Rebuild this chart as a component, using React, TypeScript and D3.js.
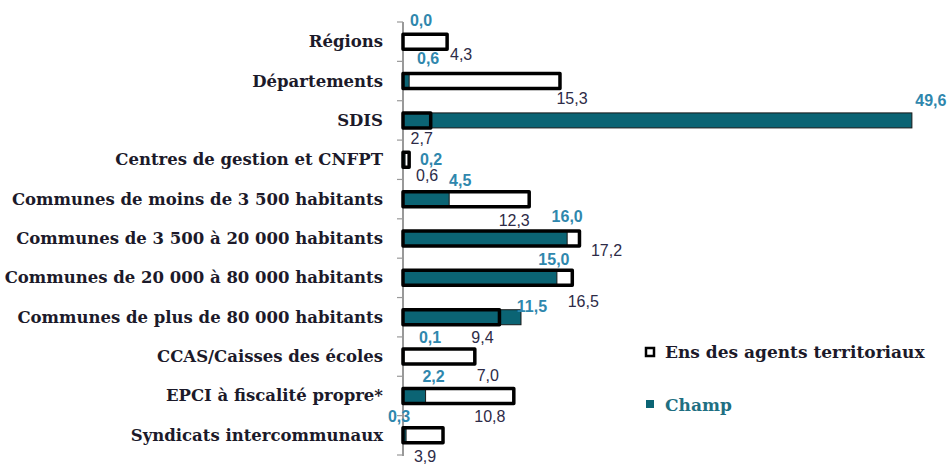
import React from 'react';
import * as d3 from 'd3';

// Data
const categories = [
  'Régions',
  'Départements',
  'SDIS',
  'Centres de gestion et CNFPT',
  'Communes de moins de 3 500 habitants',
  'Communes de 3 500 à 20 000 habitants',
  'Communes de 20 000 à 80 000 habitants',
  'Communes de plus de 80 000 habitants',
  'CCAS/Caisses des écoles',
  'EPCI à fiscalité propre*',
  'Syndicats intercommunaux',
];
const ensValues = [4.3, 15.3, 2.7, 0.6, 12.3, 17.2, 16.5, 9.4, 7.0, 10.8, 3.9];
const champValues = [0.0, 0.6, 49.6, 0.2, 4.5, 16.0, 15.0, 11.5, 0.1, 2.2, 0.3];
const seriesNames = ['Ens des agents territoriaux', 'Champ'];

// Label nudges (layout only): [dx from bar end, dy from band top]
const champNudge = [[18, -2], [19, -3], [19, 0], [26, 19], [11, 1], [0, -2], [-3, 1], [11, 9], [26, 1], [8, 0], [-7, 1]];
const ensNudge = [[14, 32], [12, 37], [-9, 38], [18, 35], [-15, 41], [27, 32], [11, 43], [-17, 40], [13, 39], [-24, 40], [-18, 41]];

const W = 949;
const H = 466;
const TEAL = '#0b6474';
const CHAMP_TEXT = '#2f87ad';
const ENS_TEXT = '#2d2b47';
const LABEL_FONT = '"DejaVu Serif", serif';
const fmt = (v: number) => v.toFixed(1).replace('.', ',');

export default function App() {
  const x = d3.scaleLinear().domain([0, 50]).range([403, 916]);
  const y = d3.scaleBand<string>().domain(categories).range([22, 455]);
  const bw = y.bandwidth();
  const barH = 15;
  const barY = (c: string) => (y(c) as number) + bw / 2 - barH / 2;
  const tickYs = [...categories.map(c => y(c) as number), y.range()[1]];

  return (
    <svg width={W} height={H} style={{ position: 'absolute', left: 0, top: 0, background: '#fff' }}>
      {/* axis */}
      <line x1={x(0)} x2={x(0)} y1={y.range()[0]} y2={y.range()[1] + 1} stroke="#555" strokeWidth={1.2} />
      {tickYs.map((t, i) => (
        <line key={i} x1={x(0) - 6} x2={x(0)} y1={t} y2={t} stroke="#9a9a9a" strokeWidth={1.2} />
      ))}

      {/* category labels */}
      {categories.map(c => (
        <text key={c} x={383} y={(y(c) as number) + bw / 2} textAnchor="end" dominantBaseline="central"
          fontFamily={LABEL_FONT} fontWeight="bold" fontSize={16.5} fill="#1c1a2a">{c}</text>
      ))}

      {/* bars: white fill, teal overlay, black outline on top */}
      {categories.map((c, i) => (
        <g key={c}>
          <rect x={x(0)} y={barY(c)} width={x(ensValues[i]) - x(0)} height={barH} fill="#fff" />
          {champValues[i] > 0 && (
            <rect x={x(0)} y={barY(c)} width={x(champValues[i]) - x(0)} height={barH}
              fill={TEAL} stroke="#1a1a1a" strokeWidth={1} />
          )}
          <rect x={x(0)} y={barY(c)} width={x(ensValues[i]) - x(0)} height={barH}
            fill="none" stroke="#000" strokeWidth={3.5} strokeLinejoin="round" />
        </g>
      ))}

      {/* value labels */}
      {categories.map((c, i) => (
        <g key={c} fontFamily='"Liberation Sans", Arial, sans-serif' fontSize={16} textAnchor="middle" dominantBaseline="central">
          <text x={x(champValues[i]) + champNudge[i][0]} y={(y(c) as number) + champNudge[i][1]}
            fill={CHAMP_TEXT} fontWeight="bold">{fmt(champValues[i])}</text>
          <text x={x(ensValues[i]) + ensNudge[i][0]} y={(y(c) as number) + ensNudge[i][1]}
            fill={ENS_TEXT}>{fmt(ensValues[i])}</text>
        </g>
      ))}

      {/* legend */}
      <rect x={646} y={348} width={8} height={8} fill="#fff" stroke="#000" strokeWidth={2.5} />
      <text x={665} y={352} dominantBaseline="central" fontFamily={LABEL_FONT} fontWeight="bold" fontSize={17} fill="#1c1a2a">{seriesNames[0]}</text>
      <rect x={646} y={400} width={8} height={8} fill={TEAL} />
      <text x={665} y={405} dominantBaseline="central" fontFamily={LABEL_FONT} fontWeight="bold" fontSize={17} fill="#1f6f82">{seriesNames[1]}</text>
    </svg>
  );
}
